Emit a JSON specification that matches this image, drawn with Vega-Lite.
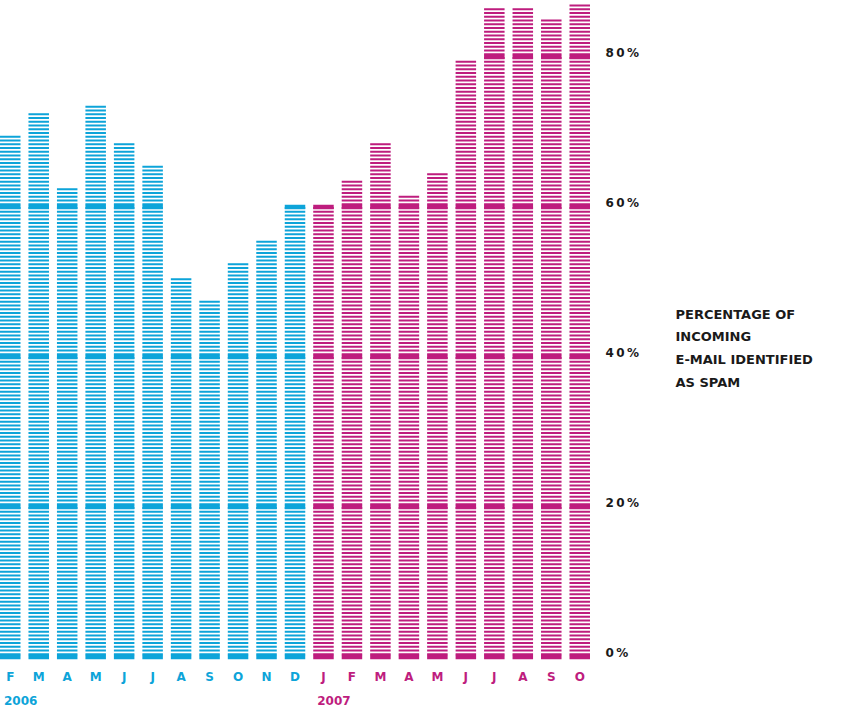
{
  "$schema": "https://vega.github.io/schema/vega-lite/v6.json",
  "width": 590,
  "height": 657,
  "autosize": {"type": "none"},
  "padding": {"left": 0, "top": 0, "right": 267, "bottom": 52},
  "background": "white",
  "config": {"view": {"stroke": null}, "font": "DejaVu Sans"},
  "data": {
    "values": [
      {"m": "2006-02", "year": "2006", "v": 69.5},
      {"m": "2006-03", "year": "2006", "v": 72.5},
      {"m": "2006-04", "year": "2006", "v": 62.5},
      {"m": "2006-05", "year": "2006", "v": 73.5},
      {"m": "2006-06", "year": "2006", "v": 68.5},
      {"m": "2006-07", "year": "2006", "v": 65.5},
      {"m": "2006-08", "year": "2006", "v": 50.5},
      {"m": "2006-09", "year": "2006", "v": 47.5},
      {"m": "2006-10", "year": "2006", "v": 52.5},
      {"m": "2006-11", "year": "2006", "v": 55.5},
      {"m": "2006-12", "year": "2006", "v": 60},
      {"m": "2007-01", "year": "2007", "v": 60},
      {"m": "2007-02", "year": "2007", "v": 63.5},
      {"m": "2007-03", "year": "2007", "v": 68.5},
      {"m": "2007-04", "year": "2007", "v": 61.5},
      {"m": "2007-05", "year": "2007", "v": 64.5},
      {"m": "2007-06", "year": "2007", "v": 79.5},
      {"m": "2007-07", "year": "2007", "v": 86.5},
      {"m": "2007-08", "year": "2007", "v": 86.5},
      {"m": "2007-09", "year": "2007", "v": 85},
      {"m": "2007-10", "year": "2007", "v": 87}
    ]
  },
  "encoding": {
    "x": {
      "field": "m",
      "type": "nominal",
      "sort": null,
      "scale": {"type": "band", "paddingInner": 0.28, "paddingOuter": 0},
      "axis": {
        "orient": "bottom",
        "title": null,
        "domain": false,
        "ticks": false,
        "labelPadding": 14,
        "labelAngle": 0,
        "labelFont": "DejaVu Sans",
        "labelFontWeight": "bold",
        "labelFontSize": 12,
        "labelExpr": "slice('JFMAMJJASOND', parseInt(slice(datum.value, 5)) - 1, parseInt(slice(datum.value, 5)))",
        "labelColor": {"condition": {"test": "indexof(datum.value, '2006') == 0", "value": "#0DA4D9"}, "value": "#BE1D7E"}
      }
    },
    "color": {
      "field": "year",
      "type": "nominal",
      "scale": {"domain": ["2006", "2007"], "range": ["#0DA4D9", "#BE1D7E"]},
      "legend": null
    }
  },
  "layer": [
    {
      "mark": {"type": "rule", "strokeWidth": 20.5, "strokeDash": [2, 1.75], "strokeCap": "butt"},
      "encoding": {
        "y": {
          "field": "v",
          "type": "quantitative",
          "scale": {"domain": [0, 87.6], "nice": false},
          "axis": {
            "orient": "right",
            "values": [0, 20, 40, 60, 80],
            "grid": false,
            "domain": false,
            "ticks": false,
            "labelPadding": 15,
            "labelOffset": -5,
            "labelFont": "DejaVu Sans",
            "labelFontWeight": "bold",
            "labelFontSize": 12,
            "labelColor": "#1a1a1a",
            "labelAlign": "left",
            "labelBaseline": "middle",
            "labelExpr": "join(split(datum.value + '%', ''), '\u2009')",
            "title": ["PERCENTAGE OF", "INCOMING", "E-MAIL IDENTIFIED", "AS SPAM"],
            "titleAngle": 0,
            "titleAlign": "left",
            "titleBaseline": "alphabetic",
            "titleX": 85,
            "titleY": 318,
            "titleFont": "DejaVu Sans",
            "titleFontSize": 13,
            "titleFontWeight": "bold",
            "titleColor": "#1a1a1a",
            "titleLineHeight": 22.7
          }
        },
        "y2": {"datum": 0}
      }
    },
    {
      "mark": {"type": "tick", "thickness": 4.5, "size": 20.5, "opacity": 1},
      "encoding": {"y": {"datum": 0, "type": "quantitative"}}
    },
    {
      "transform": [{"filter": "datum.v >= 20"}],
      "mark": {"type": "tick", "thickness": 4.5, "size": 20.5, "opacity": 1},
      "encoding": {"y": {"datum": 20, "type": "quantitative"}}
    },
    {
      "transform": [{"filter": "datum.v >= 40"}],
      "mark": {"type": "tick", "thickness": 4.5, "size": 20.5, "opacity": 1},
      "encoding": {"y": {"datum": 40, "type": "quantitative"}}
    },
    {
      "transform": [{"filter": "datum.v >= 60"}],
      "mark": {"type": "tick", "thickness": 4.5, "size": 20.5, "opacity": 1},
      "encoding": {"y": {"datum": 60, "type": "quantitative"}}
    },
    {
      "transform": [{"filter": "datum.v >= 80"}],
      "mark": {"type": "tick", "thickness": 4.5, "size": 20.5, "opacity": 1},
      "encoding": {"y": {"datum": 80, "type": "quantitative"}}
    },
    {
      "transform": [{"filter": "datum.m == '2006-02' || datum.m == '2007-01'"}],
      "mark": {"type": "text", "align": "left", "baseline": "middle", "dx": 4, "dy": 44, "font": "DejaVu Sans", "fontWeight": "bold", "fontSize": 12},
      "encoding": {
        "x": {"field": "m", "type": "nominal", "bandPosition": 0},
        "y": {"datum": 0, "type": "quantitative"},
        "text": {"field": "year"}
      }
    }
  ]
}
